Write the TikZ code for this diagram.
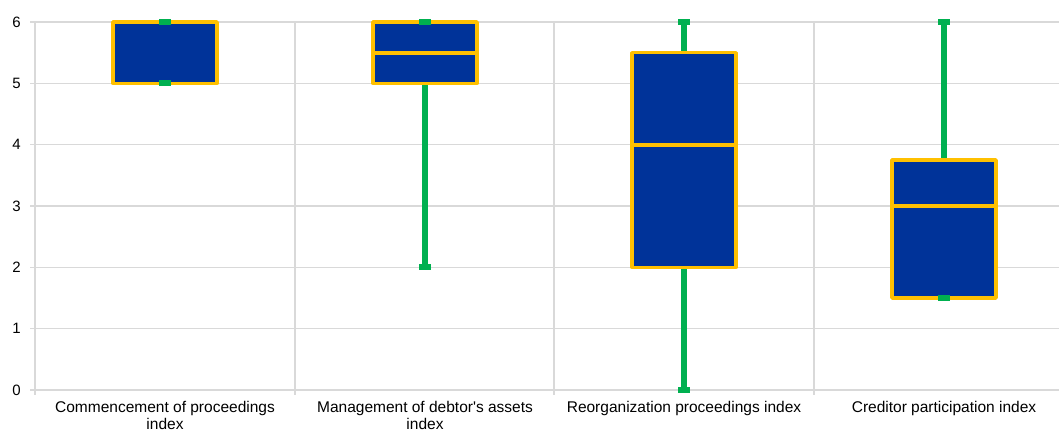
\documentclass[tikz,border=0pt]{standalone}
\usepackage{fontspec}
\setmainfont{Liberation Sans}[Ligatures=TeXOff]
\definecolor{boxblue}{RGB}{0,51,153}
\definecolor{boxyellow}{RGB}{255,192,0}
\definecolor{wgreen}{RGB}{0,176,80}
\definecolor{gridgray}{RGB}{217,217,217}
\tikzset{
  grid line/.style={draw=gridgray, line width=1.3pt},
  whisker/.style={draw=wgreen, line width=5.5pt},
  boxshape/.style={fill=boxblue, draw=boxyellow, line width=3.5pt, line join=round},
  median/.style={draw=boxyellow, line width=3.8pt},
  capmark/.style={fill=wgreen},
  ticklabel/.style={font=\fontsize{15}{17}\selectfont, anchor=east, inner sep=0pt},
  catlabel/.style={font=\fontsize{15.5}{17}\selectfont, align=center, anchor=north, inner sep=0pt}
}
\newcommand{\vy}[1]{390-61.33*#1}
\begin{document}
\begin{tikzpicture}[x=1pt,y=-1pt]
\useasboundingbox (0,0) rectangle (1059,432);
% horizontal grid
\foreach \v in {0,...,6} {
  \draw[grid line] (30,{\vy{\v}}) -- (1059,{\vy{\v}});
  \node[ticklabel] (t\v) at (21,{\vy{\v}}) {\v};
}
% vertical grid
\foreach \x in {35,295,554,814} {
  \draw[grid line] (\x,{\vy{6}}) -- (\x,395);
}
% box plots: center, q1, median, q3, min, max
\foreach \c/\qa/\md/\qb/\mn/\mx [count=\i] in {165/5/6/6/5/6, 425/5/5.5/6/2/6, 684/2/4/5.5/0/6, 944/1.5/3/3.75/1.5/6} {
  \draw[whisker] (\c,{\vy{\mn}}) -- (\c,{\vy{\mx}});
  \draw[boxshape] ({\c-52},{\vy{\qa}}) rectangle ({\c+52},{\vy{\qb}});
  \draw[median] ({\c-52},{\vy{\md}}) -- ({\c+52},{\vy{\md}});
  \fill[capmark] ({\c-6},{\vy{\mn}-3}) rectangle ({\c+6},{\vy{\mn}+3});
  \fill[capmark] ({\c-6},{\vy{\mx}-3}) rectangle ({\c+6},{\vy{\mx}+3});
}
% category labels
\node[catlabel] (c1) at (165,401) {Commencement of proceedings\\index};
\node[catlabel] (c2) at (425,401) {Management of debtor's assets\\index};
\node[catlabel] (c3) at (684,401) {Reorganization proceedings index};
\node[catlabel] (c4) at (944,401) {Creditor participation index};
\end{tikzpicture}
\end{document}
